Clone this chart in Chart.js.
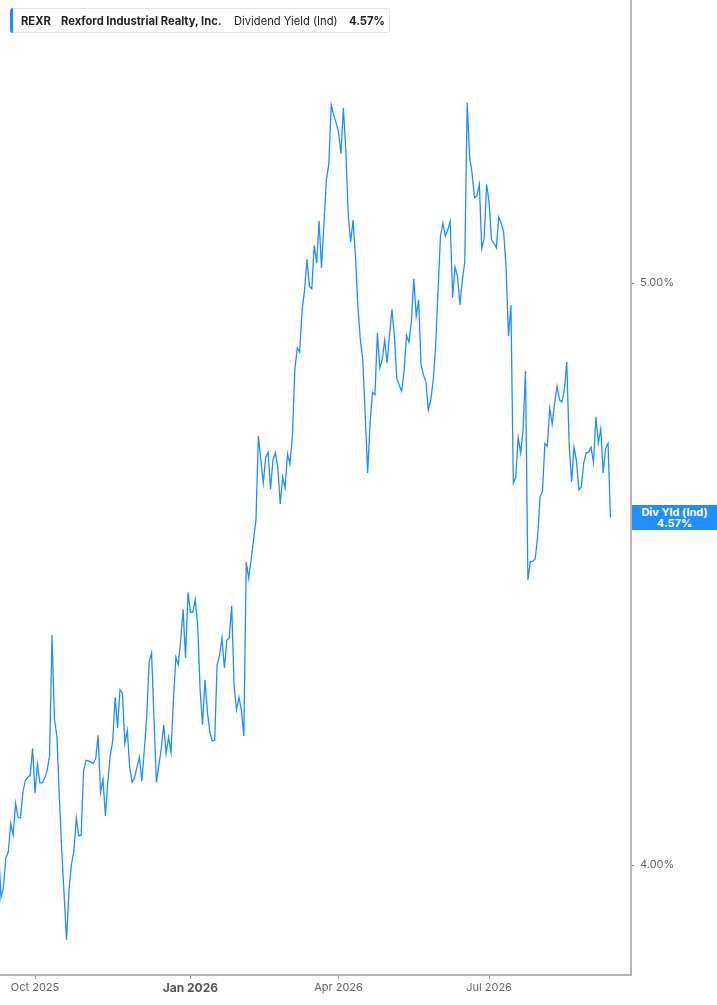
<!DOCTYPE html>
<html>
<head>
<meta charset="utf-8">
<script src="https://cdn.jsdelivr.net/npm/chart.js@4.4.1/dist/chart.umd.min.js"></script>
<style>
html,body{margin:0;padding:0;background:#fff;}
#wrap{position:relative;width:717px;height:1005px;overflow:hidden;}
#chart{position:absolute;left:0;top:0;}
#legend{position:absolute;left:10px;top:8px;height:25px;width:380px;box-sizing:border-box;border:1px solid #e4e4e4;border-radius:3px;background:#fff;
  font-family:Inter,"Noto Sans",sans-serif;font-size:11.2px;color:#222;white-space:nowrap;}
#legend .bar{position:absolute;left:-1px;top:-1px;bottom:-1px;width:3px;background:#1f8fff;border-radius:3px 0 0 3px;}
#legend span{position:absolute;top:5px;line-height:14px;}
#endlbl{position:absolute;left:632px;width:85px;height:25px;background:#1f8fff;color:#fff;font-family:Inter,"Noto Sans",sans-serif;
  font-weight:700;font-size:11px;line-height:11px;text-align:center;box-sizing:border-box;padding-top:2px;}
</style>
</head>
<body>
<div id="wrap">
  <canvas id="chart" width="717" height="1005"></canvas>
  <div id="legend"><div class="bar"></div>
    <span id="lgTicker" style="left:10px;font-weight:700">REXR</span>
    <span id="lgName" style="left:50px;font-weight:700">Rexford Industrial Realty, Inc.</span>
    <span id="lgMetric" style="left:223px;font-weight:400">Dividend Yield (Ind)</span>
    <span id="lgValue" style="left:338px;font-weight:700">4.57%</span>
  </div>
  <div id="endlbl"><div>Div Yld (Ind)</div><div id="endval">4.57%</div></div>
</div>
<script>
// ---- data ----
const ticker = "REXR";
const companyName = "Rexford Industrial Realty, Inc.";
const metricName = "Dividend Yield (Ind)";
const metricShort = "Div Yld (Ind)";
const startDate = "2025-09-10";
const endDate = "2026-09-11";
const marketHolidays = ["2025-11-27","2025-12-25","2026-01-01","2026-01-19","2026-02-16",
  "2026-04-03","2026-05-25","2026-06-19","2026-07-03","2026-09-07"];
const yieldValues = [
  4.023,3.951,3.966,4.011,4.020,4.065,4.046,4.096,4.074,4.073,
  4.113,4.132,4.137,4.140,4.183,4.112,4.158,4.128,4.128,4.136,
  4.148,4.171,4.369,4.230,4.203,4.109,4.023,3.954,3.887,3.962,
  4.001,4.021,4.073,4.045,4.046,4.147,4.164,4.163,4.161,4.159,
  4.167,4.204,4.113,4.134,4.076,4.131,4.172,4.195,4.266,4.216,
  4.278,4.273,4.191,4.212,4.153,4.129,4.136,4.153,4.169,4.131,
  4.180,4.234,4.324,4.339,4.232,4.129,4.156,4.183,4.221,4.175,
  4.201,4.177,4.261,4.332,4.320,4.360,4.412,4.330,4.441,4.407,
  4.407,4.429,4.385,4.278,4.221,4.294,4.242,4.209,4.195,4.196,
  4.319,4.335,4.364,4.314,4.360,4.364,4.418,4.284,4.245,4.266,
  4.245,4.203,4.493,4.465,4.496,4.531,4.566,4.715,4.672,4.631,
  4.676,4.686,4.620,4.672,4.685,4.659,4.594,4.642,4.622,4.683,
  4.665,4.713,4.836,4.877,4.869,4.949,4.985,5.046,4.994,4.989,
  5.073,5.038,5.120,5.029,5.116,5.201,5.233,5.353,5.333,5.316,
  5.298,5.254,5.347,5.262,5.132,5.079,5.122,5.050,4.954,4.892,
  4.855,4.753,4.649,4.739,4.795,4.790,4.905,4.840,4.855,4.892,
  4.849,4.901,4.950,4.901,4.821,4.808,4.797,4.834,4.901,4.888,
  4.926,5.008,4.937,4.968,4.845,4.827,4.814,4.762,4.781,4.817,
  4.879,4.987,5.091,5.116,5.091,5.103,5.120,4.973,5.031,5.013,
  4.958,5.006,5.040,5.357,5.247,5.215,5.166,5.170,5.193,5.066,
  5.087,5.193,5.158,5.083,5.077,5.068,5.128,5.116,5.099,5.031,
  4.899,4.958,4.631,4.642,4.713,4.685,4.726,4.834,4.462,4.494,
  4.494,4.498,4.536,4.606,4.617,4.702,4.697,4.766,4.737,4.775,
  4.806,4.781,4.777,4.799,4.851,4.699,4.633,4.695,4.670,4.619,
  4.624,4.667,4.685,4.686,4.695,4.668,4.750,4.702,4.728,4.649,
  4.693,4.702,4.570
];
const yTickValues = [4, 5];
const xTickMonths = [0, 3, 6, 9]; // Jan, Apr, Jul, Oct
const monthNames = ["Jan","Feb","Mar","Apr","May","Jun","Jul","Aug","Sep","Oct","Nov","Dec"];

// ---- trading-day calendar ----
function buildTradingDays(s, e, hol) {
  const out = [];
  const d = new Date(s + "T00:00:00Z"), end = new Date(e + "T00:00:00Z");
  while (d <= end) {
    const iso = d.toISOString().slice(0, 10), wd = d.getUTCDay();
    if (wd !== 0 && wd !== 6 && !hol.includes(iso)) out.push(iso);
    d.setUTCDate(d.getUTCDate() + 1);
  }
  return out;
}
const tradingDates = buildTradingDays(startDate, endDate, marketHolidays);
const n = Math.min(tradingDates.length, yieldValues.length);
const points = [];
for (let i = 0; i < n; i++) points.push({x: i, y: yieldValues[i], d: tradingDates[i]});

const xTicks = [];
for (let i = 1; i < n; i++) {
  const m = +tradingDates[i].slice(5, 7) - 1, pm = +tradingDates[i - 1].slice(5, 7) - 1;
  if (m !== pm && xTickMonths.includes(m)) {
    xTicks.push({value: i, label: monthNames[m] + " " + tradingDates[i].slice(0, 4), major: m === 0});
  }
}

const lineColor = "#1f8fff";
const lastVal = yieldValues[n - 1];
document.getElementById("endval").textContent = lastVal.toFixed(2) + "%";
document.getElementById("lgValue").textContent = lastVal.toFixed(2) + "%";

const endLabelPlugin = {
  id: "endLabel",
  afterDraw(chart) {
    const y = chart.scales.y.getPixelForValue(lastVal);
    document.getElementById("endlbl").style.top = (y - 12.5) + "px";
  }
};

new Chart(document.getElementById("chart"), {
  type: "line",
  data: {
    datasets: [{
      label: metricName,
      data: points,
      borderColor: lineColor,
      borderWidth: 1.3,
      pointRadius: 0,
      tension: 0,
      fill: false
    }]
  },
  options: {
    responsive: false,
    animation: false,
    layout: {padding: 0},
    plugins: {legend: {display: false}, tooltip: {enabled: false}},
    scales: {
      x: {
        type: "linear",
        bounds: "data",
        min: 0.58,
        max: 260.46,
        offset: false,
        afterBuildTicks(scale) { scale.ticks = xTicks.map(t => ({value: t.value, major: t.major})); },
        afterFit(scale) { scale.height = 30; scale.paddingLeft = 0; scale.paddingRight = 0; },
        grid: {drawOnChartArea: false, drawTicks: true, tickLength: 4, color: "#9a9a9a", lineWidth: 1},
        border: {display: true, color: "#b4b4b4", width: 2},
        ticks: {
          autoSkip: false,
          maxRotation: 0,
          padding: 2,
          color: (ctx) => (ctx.tick && ctx.tick.major) ? "#555" : "#666",
          font: (ctx) => (ctx.tick && ctx.tick.major)
            ? {family: "Inter", size: 12, weight: "bold"}
            : {family: "Inter", size: 11, weight: "normal"},
          callback: (v) => { const t = xTicks.find(q => q.value === v); return t ? t.label : ""; }
        }
      },
      y: {
        type: "logarithmic",
        bounds: "data",
        position: "right",
        min: 3.835,
        max: 5.573,
        afterBuildTicks(scale) { scale.ticks = yTickValues.map(v => ({value: v})); },
        afterFit(scale) { scale.width = 86; scale.paddingTop = 0; scale.paddingBottom = 0; },
        grid: {drawOnChartArea: false, drawTicks: true, tickLength: 3, color: "#888", lineWidth: 1},
        border: {display: true, color: "#b4b4b4", width: 2},
        ticks: {
          padding: 6,
          color: "#666",
          font: {family: "Inter", size: 11},
          callback: (v) => Number(v).toFixed(2) + "%"
        }
      }
    }
  },
  plugins: [endLabelPlugin]
});
</script>
</body>
</html>
